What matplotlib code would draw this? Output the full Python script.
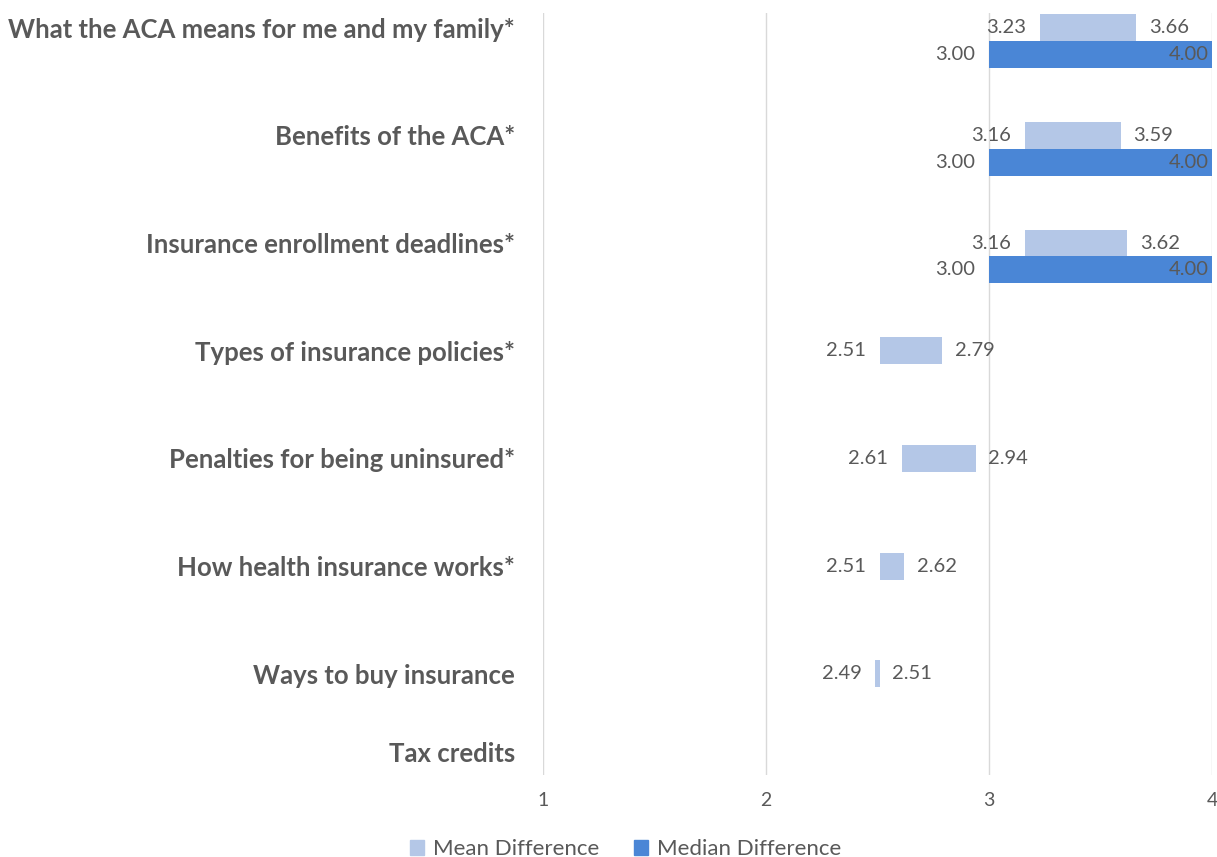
import numpy as np
import matplotlib
matplotlib.use("Agg")
import matplotlib.pyplot as plt
from matplotlib.patches import Patch

categories = ["What the ACA means for me and my family*",
              "Benefits of the ACA*",
              "Insurance enrollment deadlines*",
              "Types of insurance policies*",
              "Penalties for being uninsured*",
              "How health insurance works*",
              "Ways to buy insurance",
              "Tax credits"]
mean_low = [3.23, 3.16, 3.16, 2.51, 2.61, 2.51, 2.49, np.nan]
mean_high = [3.66, 3.59, 3.62, 2.79, 2.94, 2.62, 2.51, np.nan]
median_low = [3.00, 3.00, 3.00, np.nan, np.nan, np.nan, np.nan, np.nan]
median_high = [4.00, 4.00, 4.00, np.nan, np.nan, np.nan, np.nan, np.nan]

gray = "#595959"
c_mean = "#b4c7e7"
c_median = "#4a86d6"
plt.rcParams['font.family'] = ['Lato', 'DejaVu Sans']

fig = plt.figure(figsize=(12.17, 8.57), dpi=100)
ax = fig.add_axes([0.4462, 0.0957, 0.5497, 0.889])

rows = np.arange(len(categories))
h = 0.25
fs = 14.5
for i in rows:
    if not np.isnan(mean_low[i]):
        ax.barh(i, mean_high[i] - mean_low[i], left=mean_low[i], height=h,
                color=c_mean, zorder=3)
        ax.annotate(f"{mean_low[i]:.2f}", (mean_low[i], i), xytext=(-10, 0),
                    textcoords="offset points", ha="right", va="center",
                    fontsize=fs, color=gray)
        ax.annotate(f"{mean_high[i]:.2f}", (mean_high[i], i), xytext=(9, 0),
                    textcoords="offset points", ha="left", va="center",
                    fontsize=fs, color=gray)
    if not np.isnan(median_low[i]):
        ax.barh(i + h, median_high[i] - median_low[i], left=median_low[i],
                height=h, color=c_median, zorder=3)
        ax.annotate(f"{median_low[i]:.2f}", (median_low[i], i + h), xytext=(-10, 0),
                    textcoords="offset points", ha="right", va="center",
                    fontsize=fs, color=gray)
        ax.annotate(f"{median_high[i]:.2f}", (median_high[i], i + h), xytext=(-2, 0),
                    textcoords="offset points", ha="right", va="center",
                    fontsize=fs, color=gray)

ax.set_xlim(1, 4)
ax.set_ylim(6.94, -0.135)
ax.set_xticks([1, 2, 3, 4])
ax.tick_params(axis="x", length=0, labelsize=14, labelcolor=gray, pad=12)
# last label sits a little higher in the original
ypos = list(rows[:-1]) + [6.73]
ax.set_yticks(ypos)
ax.set_yticklabels(categories, fontsize=18.5, fontweight="bold", color=gray)
ax.tick_params(axis="y", length=0, pad=20)
ax.grid(axis="x", color="#d9d9d9", linewidth=1, zorder=0)
for s in ax.spines.values():
    s.set_visible(False)

handles = [Patch(color=c_mean, label="Mean Difference"),
           Patch(color=c_median, label="Median Difference")]
leg = fig.legend(handles=handles, loc="lower center", bbox_to_anchor=(0.514, -0.026),
                 ncol=2, frameon=False, fontsize=16, handlelength=0.6,
                 handleheight=0.6, columnspacing=1.6, handletextpad=0.4)
for t in leg.get_texts():
    t.set_color(gray)

fig.savefig("out.png", dpi=100)
